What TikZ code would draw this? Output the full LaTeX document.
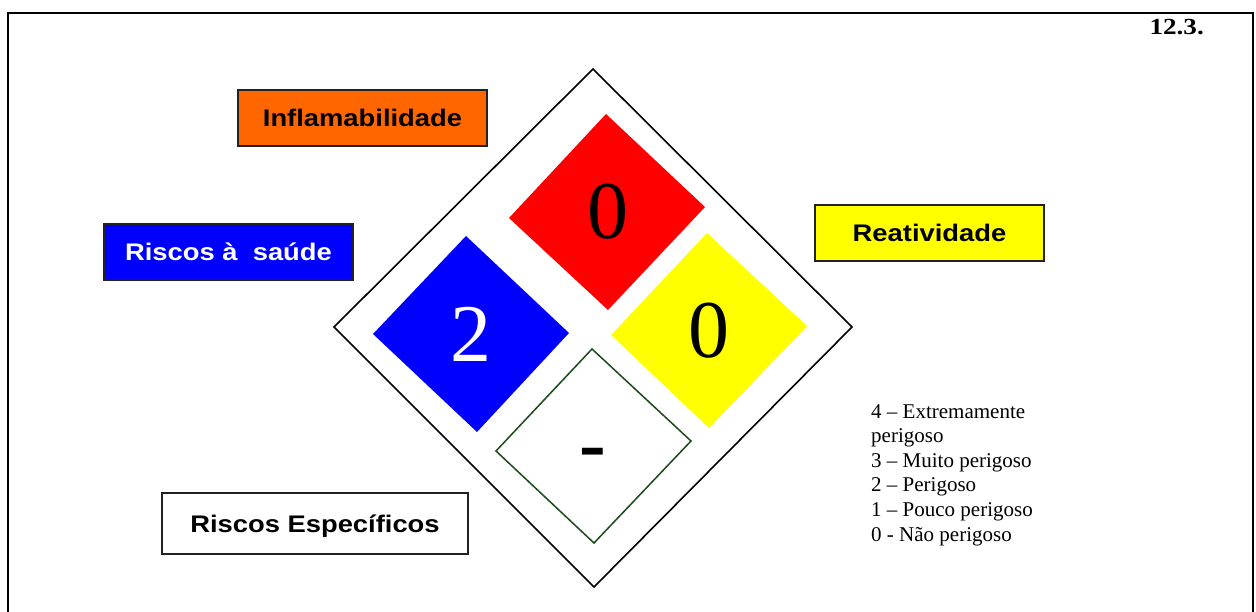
\documentclass[tikz,border=0pt]{standalone}
\usepackage{fontspec}
\setmainfont{Liberation Serif}
\newfontfamily\labfont[FakeStretch=1.14]{Liberation Sans}
\definecolor{fireor}{HTML}{FF6600}
\definecolor{hazred}{HTML}{FF0000}
\definecolor{hazblue}{HTML}{0000FF}
\definecolor{hazyellow}{HTML}{FFFF00}
\definecolor{hazgreen}{HTML}{1A4A1A}
\definecolor{boxline}{HTML}{222222}
\begin{document}
\begin{tikzpicture}[x=1pt,y=-1pt,
  labelbox/.style={draw=boxline, line width=1.8pt, inner sep=0pt, minimum height=56pt,
    text height=17pt, text depth=0pt, font=\labfont\bfseries\fontsize{24}{28}\selectfont},
  bignum/.style={anchor=base, inner sep=0pt, font=\fontsize{82}{90}\selectfont}
]
\useasboundingbox (0,0) rectangle (1256,612);
% frame
\draw[line width=2pt] (7.5,612) -- (7.5,13) -- (1253,13) -- (1253,612);
% outer diamond
\draw[line width=1.6pt] (593,69) -- (852,327) -- (594,587) -- (334,327) -- cycle;
% coloured diamonds
\fill[hazred] (606,114) -- (705,207) -- (608,310) -- (509,218) -- cycle;
\fill[hazblue] (466,236) -- (569,333) -- (477,432) -- (373,334) -- cycle;
\fill[hazyellow] (707,233) -- (807,326) -- (709,428) -- (611,335) -- cycle;
\draw[draw=hazgreen, line width=1.5pt] (592,349) -- (691,441) -- (594,543) -- (496,451) -- cycle;
% numbers
\node[bignum] (nfire) at (607.5,239) {0};
\node[bignum, text=white] (nhealth) at (471,362) {2};
\node[bignum] (nreact) at (709,357) {0};
\node[anchor=base, inner sep=0pt, font=\bfseries\fontsize{80}{90}\selectfont] (nspec) at (593,470) {-};
% label boxes
\node[labelbox, fill=fireor, minimum width=249pt] (lfire) at (362.5,118) {Inflamabilidade};
\node[labelbox, fill=hazblue, text=white, minimum width=249pt] (lhealth) at (228.5,252) {Riscos à\ \ saúde};
\node[labelbox, fill=hazyellow, minimum width=229pt] (lreact) at (929.5,233) {Reatividade};
\node[labelbox, fill=white, minimum width=306pt, minimum height=61pt] (lspec) at (315,523.5) {Riscos Específicos};
% legend
\node[anchor=north west, inner sep=0pt, align=left, font=\fontsize{21}{24.6}\selectfont] (legend) at (871,404)
  {4 – Extremamente\\perigoso\\3 – Muito perigoso\\2 – Perigoso\\1 – Pouco perigoso\\0 - Não perigoso};
% section number
\node[anchor=base east, inner sep=0pt, font=\bfseries\fontsize{23}{26}\selectfont] (sec) at (1204,34.5) {\scalebox{1.18}[1]{12.3.}};
\end{tikzpicture}
\end{document}
